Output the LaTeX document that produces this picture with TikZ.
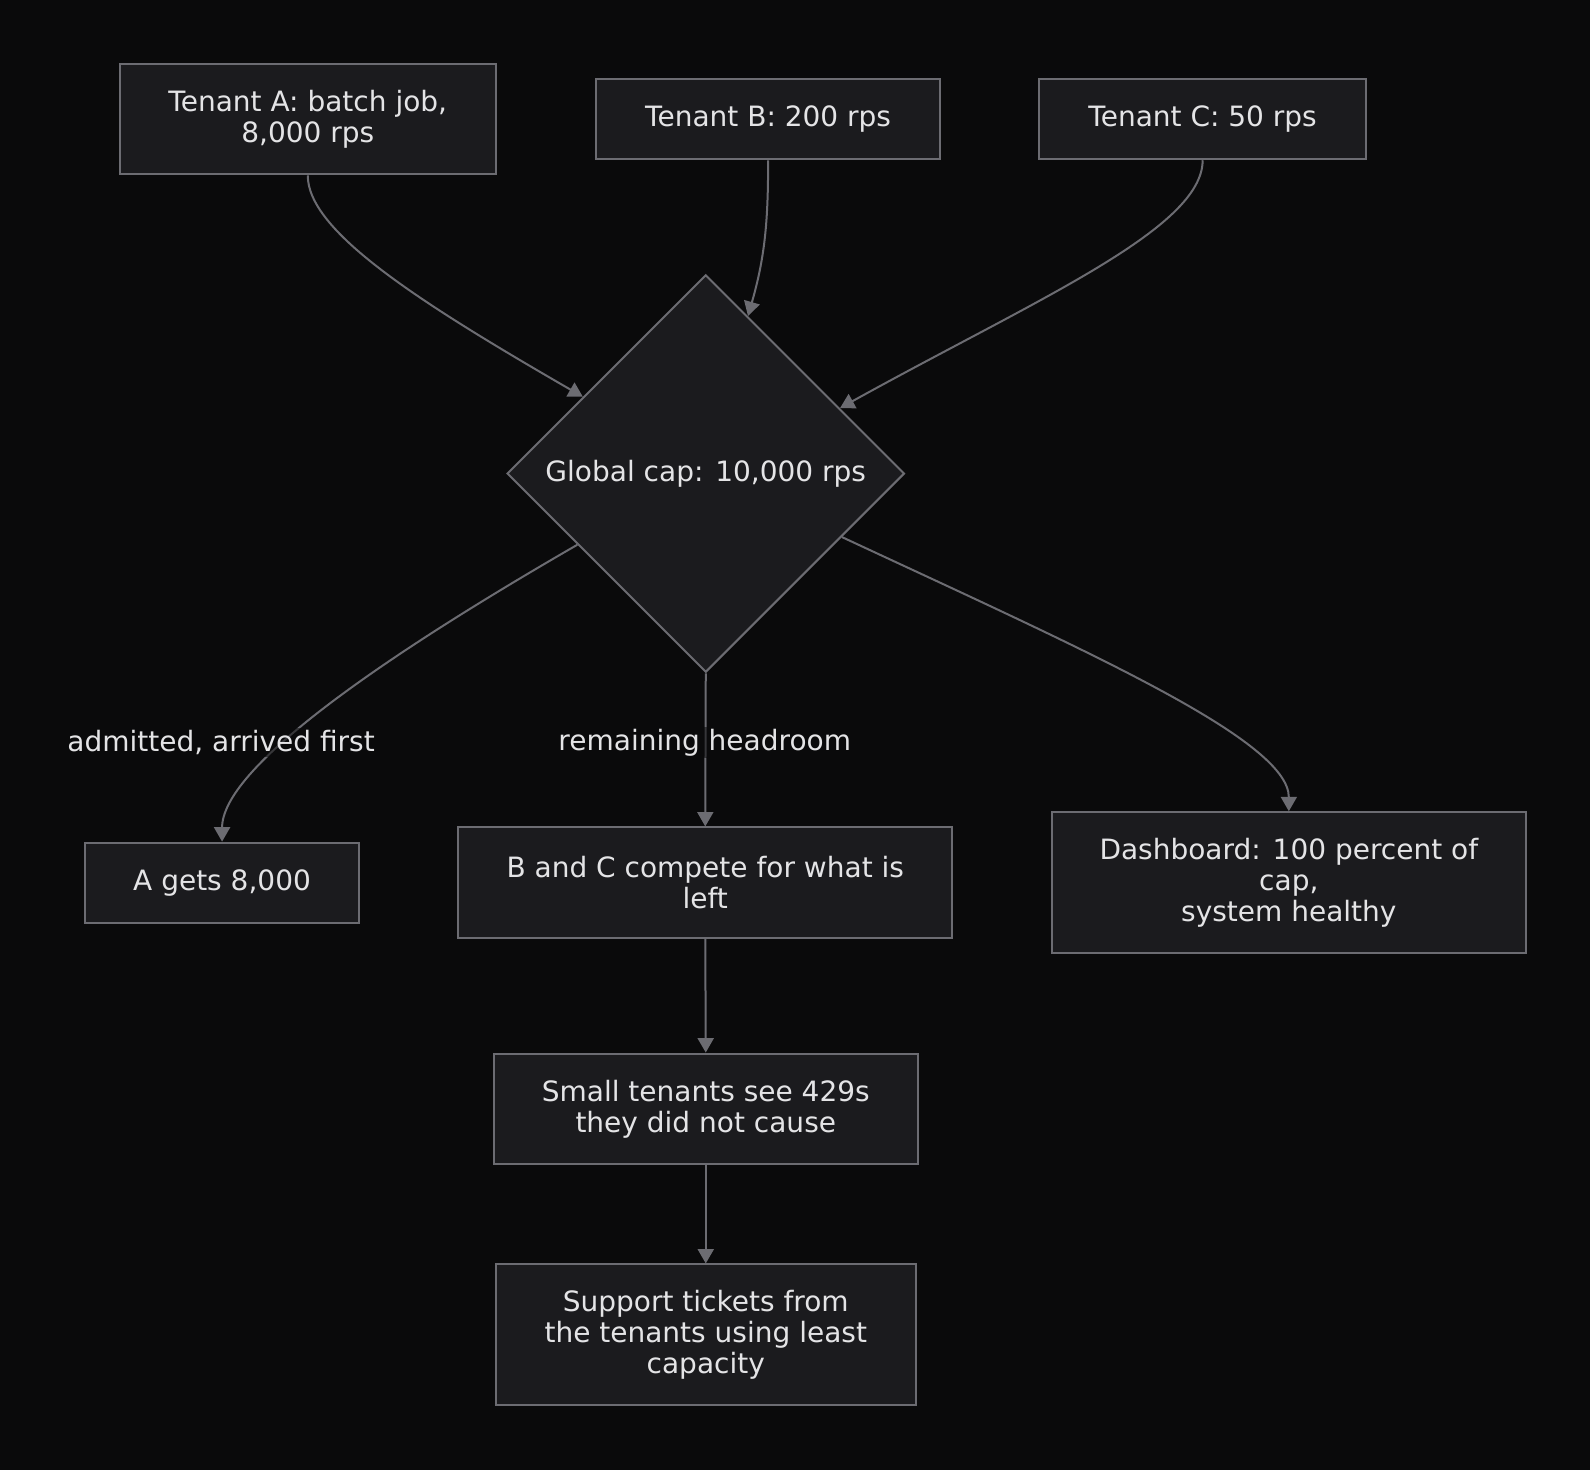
\documentclass[tikz,border=0pt]{standalone}
\usepackage{fontspec}
\setmainfont{DejaVu Sans}
\usepackage{tikz}
\usetikzlibrary{arrows.meta}
\usetikzlibrary{shapes.geometric}
\usetikzlibrary{positioning}
\definecolor{bgcol}{HTML}{0A0A0B}
\definecolor{boxcol}{HTML}{1B1B1E}
\definecolor{edgecol}{HTML}{6C6C72}
\definecolor{txtcol}{HTML}{E4E4E6}
\tikzset{inv/.style={opacity=0}}

\begin{document}
\begin{tikzpicture}[x=0.507pt, y=-0.507pt]
\tikzstyle{mybox} = [draw=edgecol, fill=boxcol, line width=1pt, text=txtcol, align=center, inner sep=0pt, font=\fontsize{14}{15.5}\selectfont]
\tikzstyle{myedgestyle} = [draw=edgecol, line width=1pt, -{Triangle[length=7.2pt, width=8pt]}]
\tikzstyle{mylabel} = [fill=bgcol, fill opacity=0.55, text opacity=1, text=txtcol, inner sep=1pt, font=\fontsize{14}{15.5}\selectfont]
\fill[bgcol] (0, 0) rectangle (1568, 1450);
\useasboundingbox (0, 0) rectangle (1568, 1450);
% sources
\node[mybox, minimum width=188.1pt, minimum height=55.3pt](tenA) at (303.5, 117.5){Tenant A: batch job,\\8,000 rps};
\node[mybox, minimum width=171.9pt, minimum height=40.1pt](tenB) at (757.5, 117.5){Tenant B: 200 rps};
\node[mybox, minimum width=163.3pt, minimum height=40.1pt](tenC) at (1186, 117.5){Tenant C: 50 rps};
\node[mybox, diamond, aspect=1, minimum width=198.7pt, minimum height=198.7pt](cap) at (696, 467){Global cap: 10,000 rps};
% outcomes
\node[mybox, minimum width=136.9pt, minimum height=40.1pt](gotA) at (219, 870.5){A gets 8,000};
\node[mybox, minimum width=246.9pt, minimum height=55.3pt](rest) at (695.5, 870.5){B and C compete for what is\\left};
\node[mybox, minimum width=237.3pt, minimum height=70.5pt](dash) at (1271, 870.5){Dashboard: 100 percent of\\cap,\\system healthy};
\node[mybox, minimum width=211.9pt, minimum height=55.3pt](small) at (696, 1093.5){Small tenants see 429s\\they did not cause};
\node[mybox, minimum width=209.9pt, minimum height=70.5pt](tickets) at (696, 1316.5){Support tickets from\\the tenants using least\\capacity};
% edges
\draw[myedgestyle] (tenA.south) to[out=-90, in=150, out looseness=0.4, in looseness=1.4] (cap.148);
\draw[myedgestyle] (tenB.south) to[out=-90, in=74] (cap.75);
\draw[myedgestyle] (tenC.south) to[out=-90, in=29, out looseness=0.4, in looseness=1.3] (cap.26);
\draw[myedgestyle] (cap.209) to[out=210, in=90, out looseness=1.3, in looseness=0.4] (gotA.north);
\draw[myedgestyle] (cap.south) -- (rest.north);
\draw[myedgestyle] (cap.-25) to[out=-25, in=90, out looseness=1.3, in looseness=0.35] (dash.north);
\draw[myedgestyle] (rest.south) -- (small.north);
\draw[myedgestyle] (small.south) -- (tickets.north);
\node[mylabel](lblA) at (218, 732){admitted, arrived first};
\node[mylabel](lblB) at (695, 732){remaining headroom};
\end{tikzpicture}
\end{document}
